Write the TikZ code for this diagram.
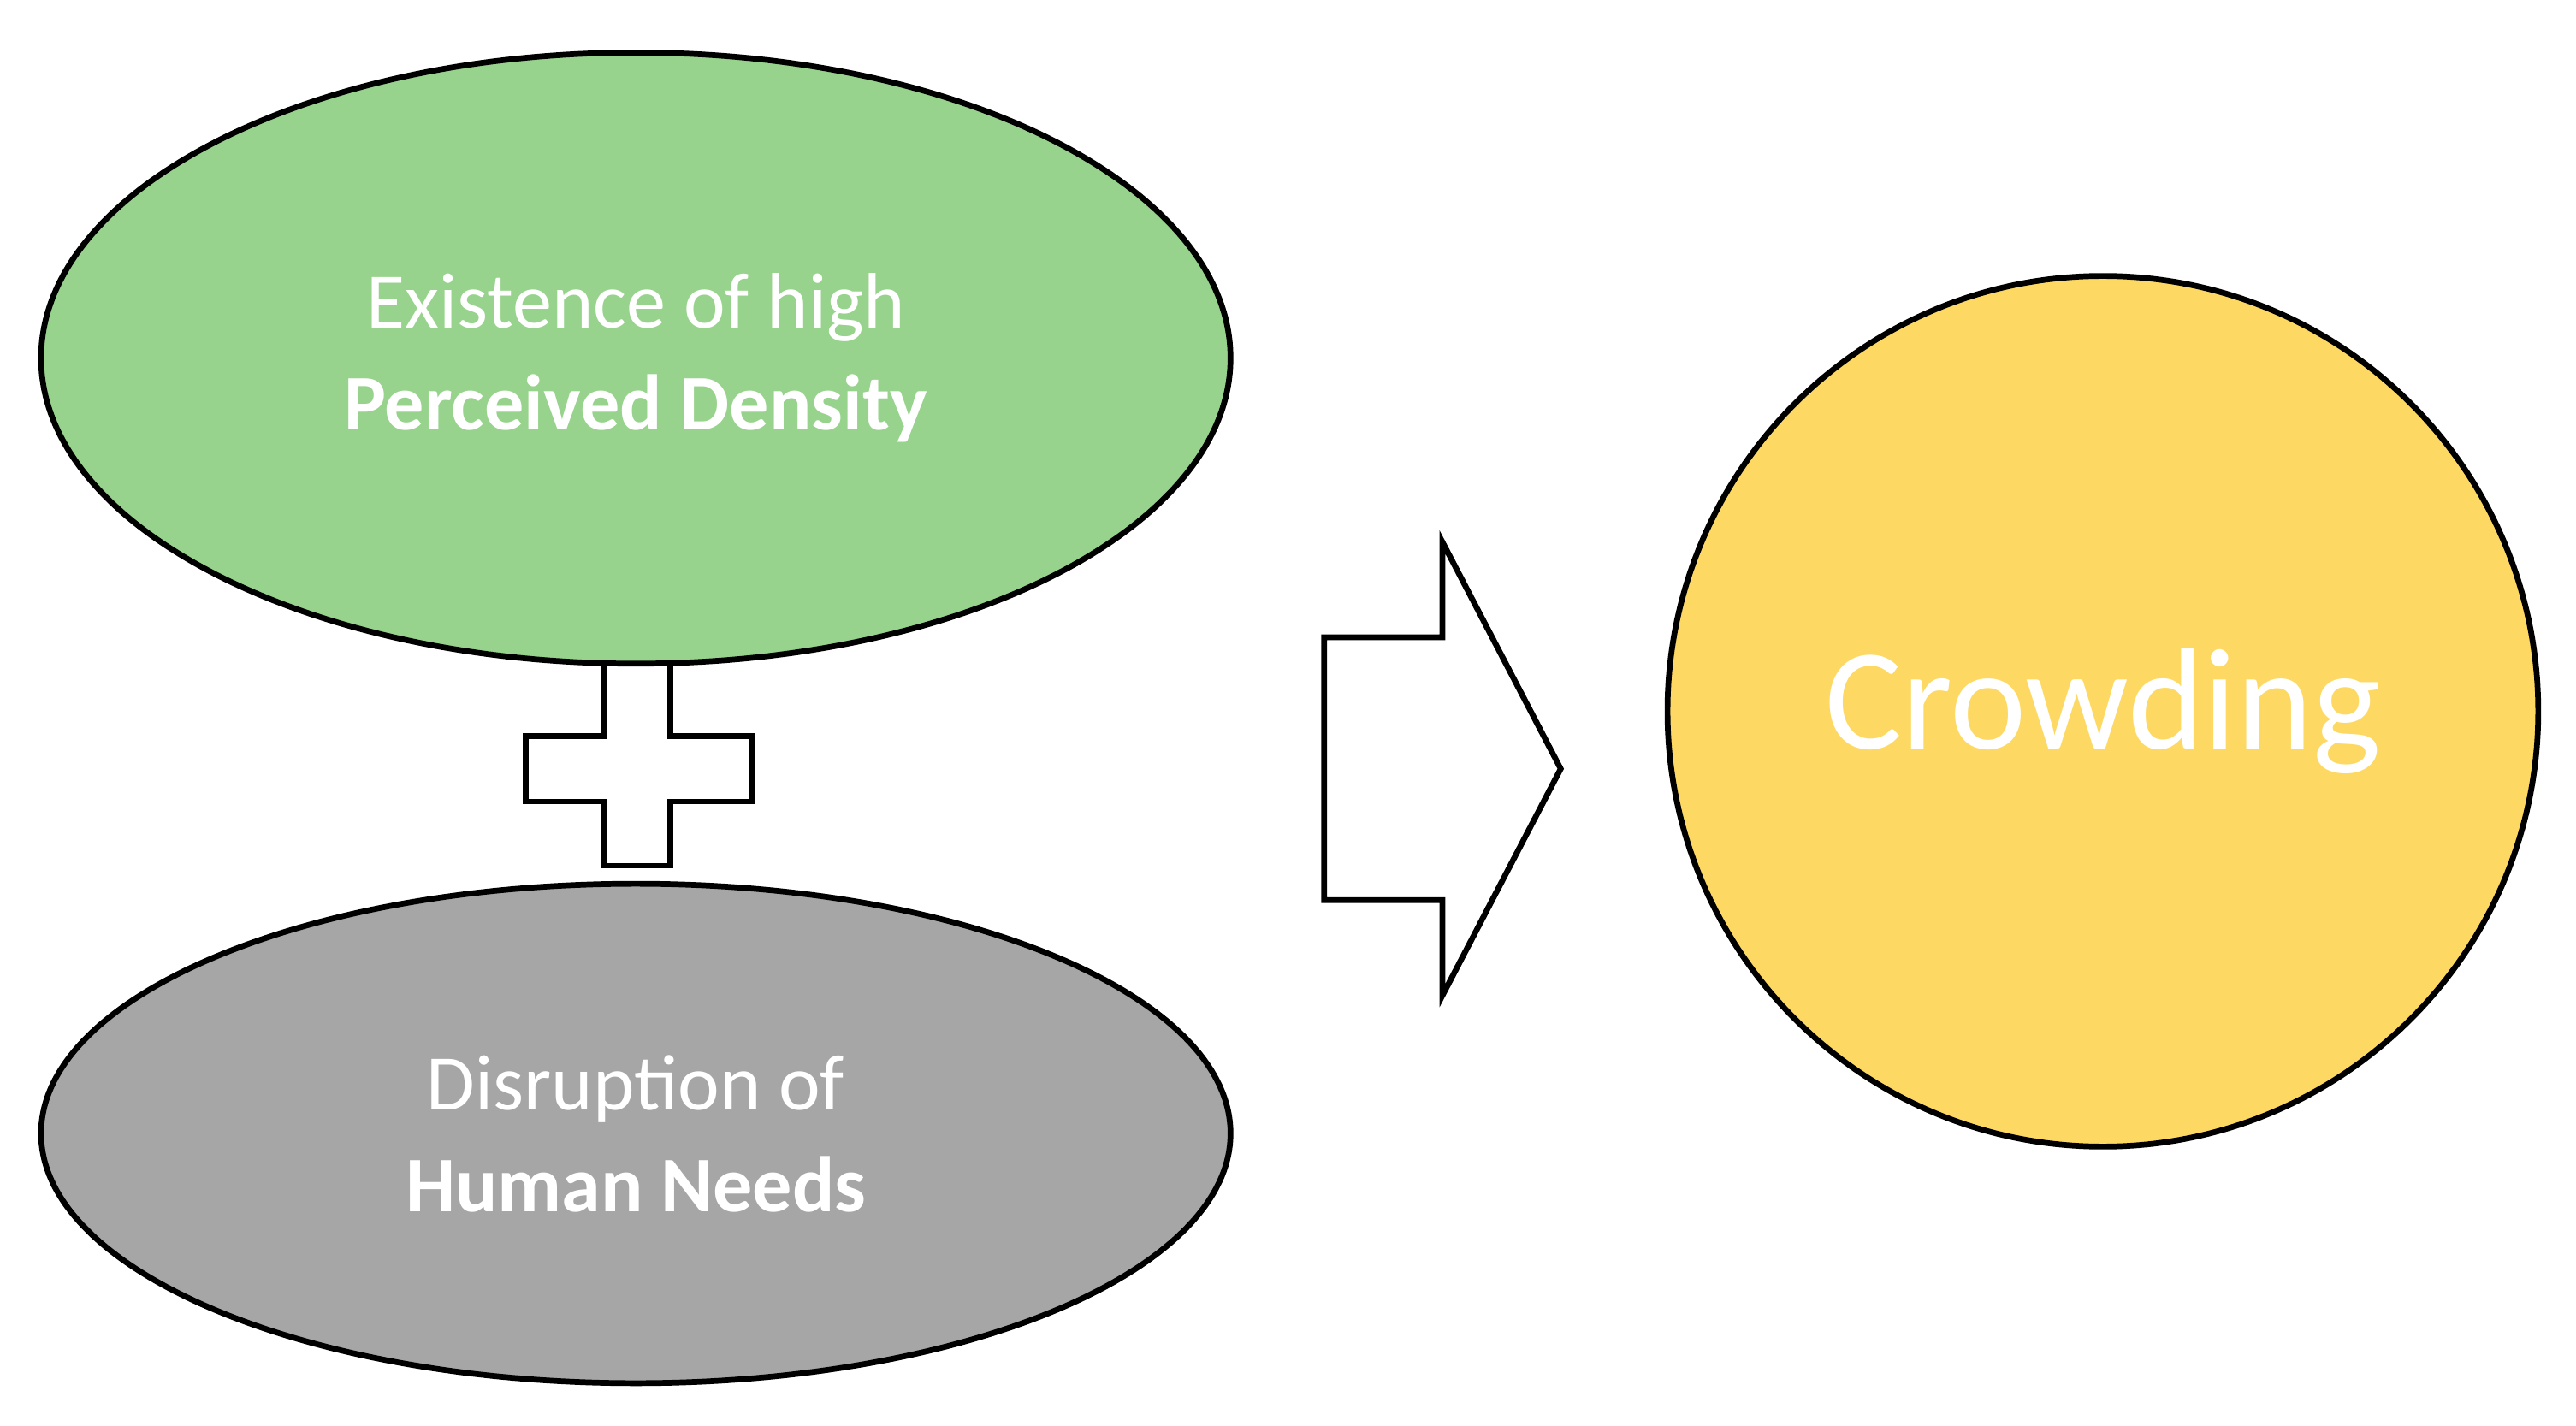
\documentclass[tikz,border=0pt]{standalone}
\usepackage{fontspec}
\setmainfont{Carlito}
\usetikzlibrary{shapes.geometric}
\definecolor{gfill}{HTML}{97D38C}
\definecolor{grfill}{HTML}{A6A6A6}
\definecolor{yfill}{HTML}{FDD964}
\begin{document}
\begin{tikzpicture}[x=1pt,y=-1pt,
  shp/.style={draw=black,line width=3.5pt},
  txt/.style={text=white,font=\fontsize{48}{62}\selectfont,align=center}]
\useasboundingbox (0,0) rectangle (1568,868);
\fill[white] (0,0) rectangle (1568,868);
\draw[shp,fill=grfill] (387,690) ellipse [x radius=362,y radius=152];
\draw[shp,fill=white] (368,400) -- (408,400) -- (408,448) -- (458,448) -- (458,488) -- (408,488) -- (408,527) -- (368,527) -- (368,488) -- (320,488) -- (320,448) -- (368,448) -- cycle;
\draw[shp,fill=gfill] (387,218) ellipse [x radius=362,y radius=186];
\node[txt] (top) at (387,218) {Existence of high\\\textbf{Perceived Density}};
\node[txt] (bot) at (387,690) {Disruption of\\\textbf{Human Needs}};
\draw[shp,fill=white] (806,388) -- (878,388) -- (878,330) -- (950,468) -- (878,606) -- (878,548) -- (806,548) -- cycle;
\draw[shp,fill=yfill] (1280,433) circle [radius=265];
\node[text=white,font=\fontsize{88}{100}\selectfont] (crowd) at (1280,433) {Crowding};
\end{tikzpicture}
\end{document}
